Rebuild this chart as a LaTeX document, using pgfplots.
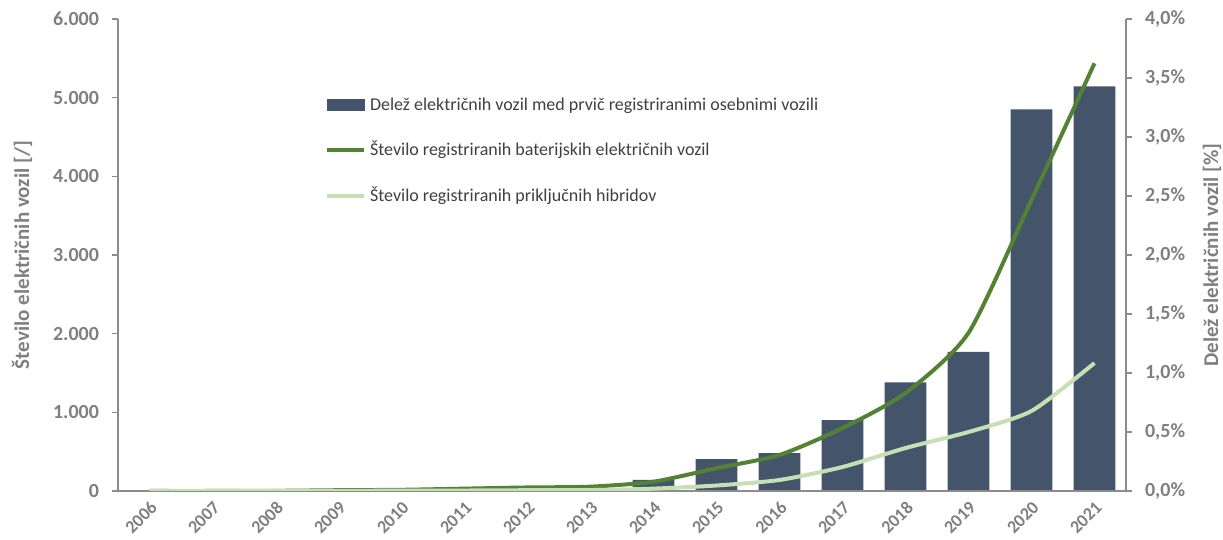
\documentclass[border=0pt]{standalone}
\usepackage{pgfplots}
\pgfplotsset{compat=1.18}
\usepackage{fontspec}
\setmainfont{Carlito}
\definecolor{barc}{HTML}{44546A}
\definecolor{dg}{HTML}{548235}
\definecolor{lg}{HTML}{C5E0B4}
\definecolor{axc}{HTML}{8C8C8C}
\definecolor{txc}{HTML}{7F7F7F}
\definecolor{lgt}{HTML}{404040}
\begin{document}
\begin{tikzpicture}
\path[use as bounding box] (-59pt,-24.5pt) rectangle (552.5pt,245.5pt);
% bars: share on right axis
\begin{axis}[
  at={(0,0)}, anchor=south west,
  scale only axis, width=504pt, height=236pt,
  xmin=-0.5, xmax=15.5, ymin=0, ymax=4,
  axis y line*=right, axis x line=none,
  axis line style={axc, line width=0.8pt},
  ytick={0,0.5,...,4},
  tick align=outside, major tick length=3pt,
  ytick style={axc, line width=0.8pt},
  /pgf/number format/assume math mode=true,
  yticklabel={\pgfmathprintnumber[fixed,fixed zerofill,precision=1,use comma]{\tick}\%},
  yticklabel style={font=\bfseries\fontsize{10}{12}\selectfont, text=txc, xshift=3pt},
  ylabel={Delež električnih vozil [\%]},
  ylabel style={at={(axis description cs:1.0853,0.5)}, anchor=center, font=\bfseries\fontsize{10.5}{12}\selectfont, text=txc},
]
\addplot[ybar, bar width=0.66, fill=barc, draw=none] coordinates {
(0,0) (1,0) (2,0) (3,0.005) (4,0.005) (5,0.01) (6,0.015) (7,0.02)
(8,0.095) (9,0.27) (10,0.32) (11,0.60) (12,0.92) (13,1.18) (14,3.235) (15,3.43)};
\end{axis}
% lines: counts on left axis
\begin{axis}[
  at={(0,0)}, anchor=south west,
  scale only axis, width=504pt, height=236pt,
  xmin=-0.5, xmax=15.5, ymin=0, ymax=6000,
  axis y line*=left, axis x line*=bottom,
  axis line style={axc, line width=0.8pt},
  xtick={0,...,15},
  xticklabels={2006,2007,2008,2009,2010,2011,2012,2013,2014,2015,2016,2017,2018,2019,2020,2021},
  xtick style={draw=none},
  xticklabel style={rotate=45, anchor=north east, inner sep=1pt, font=\bfseries\fontsize{9}{10}\selectfont, text=txc},
  ytick={0,1000,...,6000},
  scaled y ticks=false,
  tick align=outside, major tick length=3pt,
  ytick style={axc, line width=0.8pt},
  /pgf/number format/assume math mode=true,
  /pgf/number format/1000 sep={.},
  yticklabel style={font=\bfseries\fontsize{10}{12}\selectfont, text=txc, xshift=-3pt},
  ylabel={Število električnih vozil [/]},
  ylabel style={at={(axis description cs:-0.0952,0.5)}, anchor=center, font=\bfseries\fontsize{10.5}{12}\selectfont, text=txc},
  legend style={at={(axis description cs:0.205,0.843)}, anchor=north west, draw=none, fill=none,
    inner sep=0pt, row sep=10pt, font=\fontsize{9}{11}\selectfont, text=lgt,
    nodes={inner xsep=2pt}},
  legend cell align=left,
]
\addlegendimage{legend image code/.code={\fill[barc] (0pt,-2.75pt) rectangle (18.5pt,2.75pt);}}
\addlegendentry{Delež električnih vozil med prvič registriranimi osebnimi vozili}
\addplot[dg, line width=2pt, smooth, tension=0.4,
  legend image code/.code={\draw[dg, line width=2pt] (0pt,0pt) -- (18.5pt,0pt);}] coordinates {
(0,0) (1,0) (2,2) (3,10) (4,15) (5,30) (6,45) (7,55)
(8,118) (9,290) (10,458) (11,800) (12,1245) (13,2010) (14,3700) (15,5437)};
\addlegendentry{Število registriranih baterijskih električnih vozil}
\addplot[lg, line width=2pt, smooth, tension=0.4,
  legend image code/.code={\draw[lg, line width=2pt] (0pt,0pt) -- (18.5pt,0pt);}] coordinates {
(0,0) (1,0) (2,0) (3,2) (4,4) (5,6) (6,10) (7,12)
(8,30) (9,70) (10,140) (11,305) (12,546) (13,750) (14,1017) (15,1627)};
\addlegendentry{Število registriranih priključnih hibridov}
\end{axis}
\end{tikzpicture}
\end{document}
